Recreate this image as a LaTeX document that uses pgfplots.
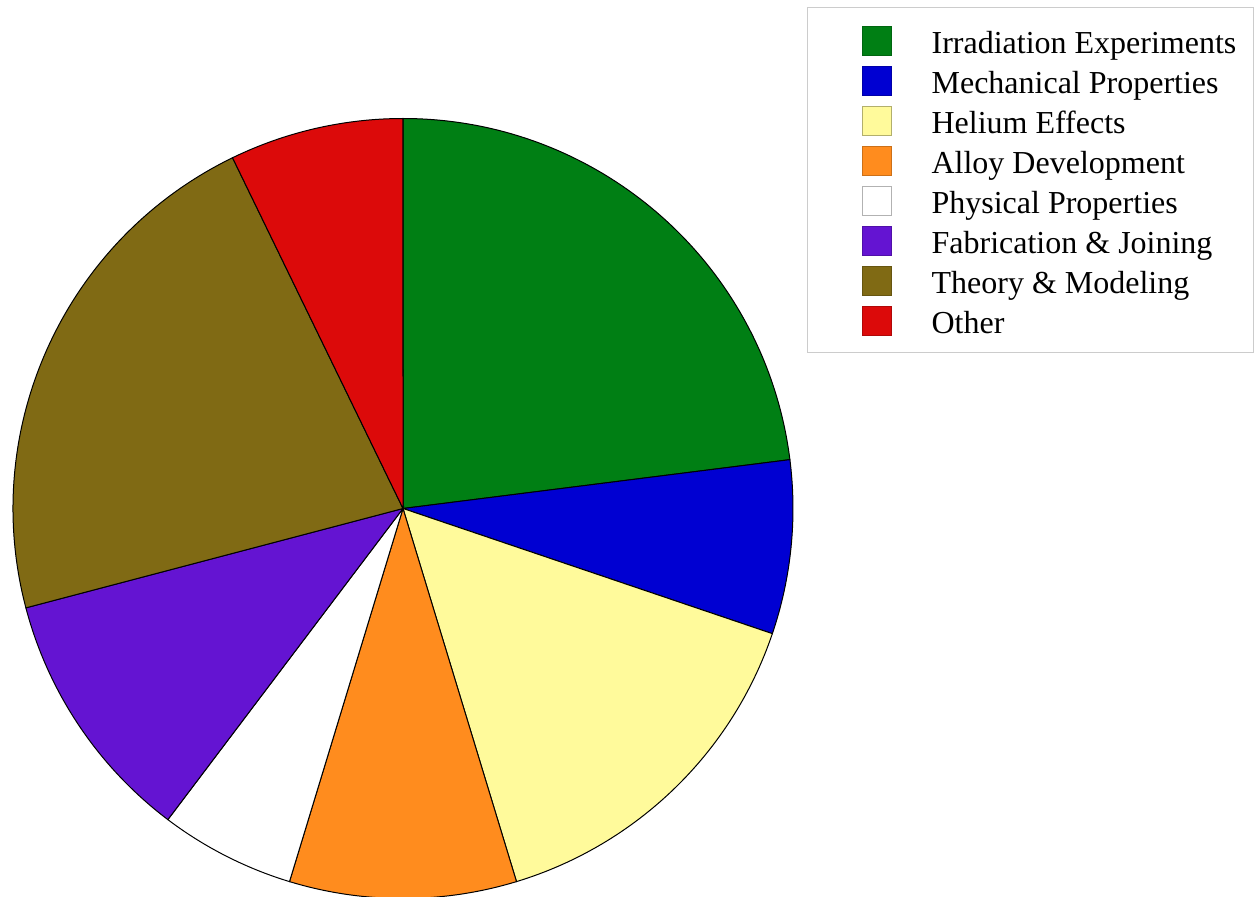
\documentclass[border=0pt]{standalone}
\usepackage{fontspec}
\setmainfont{Liberation Serif}
\usepackage{pgfplots}
\pgfplotsset{compat=1.18}
\definecolor{pgreen}{RGB}{0,127,20}
\definecolor{pblue}{RGB}{0,0,210}
\definecolor{pyellow}{RGB}{255,250,155}
\definecolor{porange}{RGB}{255,140,30}
\definecolor{ppurple}{RGB}{100,20,210}
\definecolor{polive}{RGB}{128,106,20}
\definecolor{pred}{RGB}{220,10,10}
% Shares (percent), clockwise from 12 o'clock:
% Irradiation Experiments 23.0, Mechanical Properties 7.2, Helium Effects 15.1,
% Alloy Development 9.4, Physical Properties 5.6, Fabrication & Joining 10.6,
% Theory & Modeling 21.9, Other 7.2
\begin{document}
\begin{tikzpicture}
\path[use as bounding box] (0,0) rectangle (627.5pt,448pt);
\begin{axis}[
  at={(6.5pt,-1.25pt)}, anchor=south west,
  x=195pt, y=195pt,
  xmin=-1, xmax=1, ymin=-1, ymax=1,
  hide axis, clip=false,
  legend cell align=left,
  legend image code/.code={%
    \path[draw=none, fill=none] (-18.9pt,-1.25pt) rectangle (34.5pt,13.25pt);
    \draw[#1] (0pt,-1.25pt) rectangle (14.5pt,13.25pt);},
  legend style={
    at={(1.01795,1.14295)}, anchor=north west,
    draw=black!20, line width=0.6pt, fill=white,
    inner xsep=8.6pt, inner ysep=6.25pt,
    row sep=0pt,
    font=\fontsize{16}{20}\selectfont,
    cells={anchor=base west},
    nodes={inner sep=0pt, text height=16.5pt, text depth=3.5pt},
  },
]
\addlegendimage{fill=pgreen, draw=pgreen!80!black, line width=0.5pt}
\addlegendentry{Irradiation Experiments}
\addlegendimage{fill=pblue, draw=pblue!80!black, line width=0.5pt}
\addlegendentry{Mechanical Properties}
\addlegendimage{fill=pyellow, draw=pyellow!70!black, line width=0.5pt}
\addlegendentry{Helium Effects}
\addlegendimage{fill=porange, draw=porange!80!black, line width=0.5pt}
\addlegendentry{Alloy Development}
\addlegendimage{fill=white, draw=black!30, line width=0.5pt}
\addlegendentry{Physical Properties}
\addlegendimage{fill=ppurple, draw=ppurple!80!black, line width=0.5pt}
\addlegendentry{Fabrication \& Joining}
\addlegendimage{fill=polive, draw=polive!80!black, line width=0.5pt}
\addlegendentry{Theory \& Modeling}
\addlegendimage{fill=pred, draw=pred!80!black, line width=0.5pt}
\addlegendentry{Other}

\fill[pgreen, draw=black, line width=0.5pt] (axis cs:0,0) -- (axis cs:{cos(90)},{sin(90)}) arc[start angle=90, end angle=7.2, radius=195pt] -- cycle;
\fill[pblue, draw=black, line width=0.5pt] (axis cs:0,0) -- (axis cs:{cos(7.2)},{sin(7.2)}) arc[start angle=7.2, end angle=-18.72, radius=195pt] -- cycle;
\fill[pyellow, draw=black, line width=0.5pt] (axis cs:0,0) -- (axis cs:{cos(-18.72)},{sin(-18.72)}) arc[start angle=-18.72, end angle=-73.08, radius=195pt] -- cycle;
\fill[porange, draw=black, line width=0.5pt] (axis cs:0,0) -- (axis cs:{cos(-73.08)},{sin(-73.08)}) arc[start angle=-73.08, end angle=-106.92, radius=195pt] -- cycle;
\fill[white, draw=black, line width=0.5pt] (axis cs:0,0) -- (axis cs:{cos(-106.92)},{sin(-106.92)}) arc[start angle=-106.92, end angle=-127.08, radius=195pt] -- cycle;
\fill[ppurple, draw=black, line width=0.5pt] (axis cs:0,0) -- (axis cs:{cos(-127.08)},{sin(-127.08)}) arc[start angle=-127.08, end angle=-165.24, radius=195pt] -- cycle;
\fill[polive, draw=black, line width=0.5pt] (axis cs:0,0) -- (axis cs:{cos(-165.24)},{sin(-165.24)}) arc[start angle=-165.24, end angle=-244.08, radius=195pt] -- cycle;
\fill[pred, draw=black, line width=0.5pt] (axis cs:0,0) -- (axis cs:{cos(-244.08)},{sin(-244.08)}) arc[start angle=-244.08, end angle=-270, radius=195pt] -- cycle;
\end{axis}
\end{tikzpicture}
\end{document}
